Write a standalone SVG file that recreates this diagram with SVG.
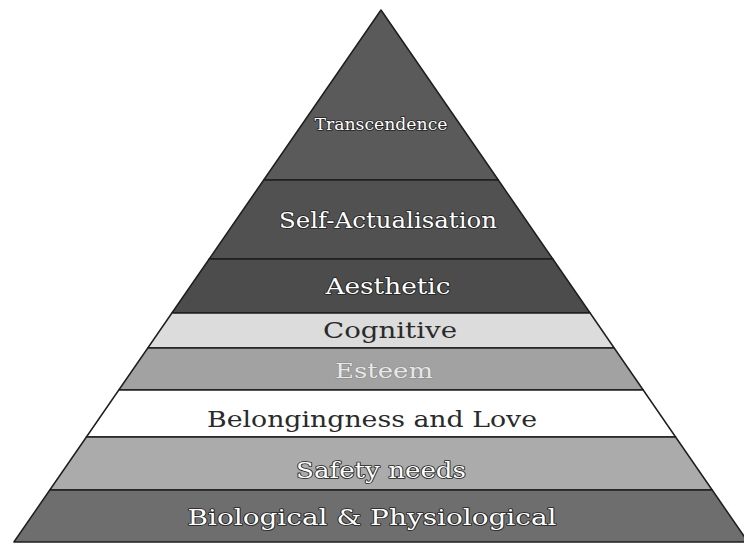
<svg xmlns="http://www.w3.org/2000/svg" width="744" height="544" viewBox="0 0 744 544">
<style>
.band{stroke:#1e1e1e;stroke-width:1.5;stroke-linejoin:round}
.lbl{font-family:"DejaVu Serif","Liberation Serif",serif;text-anchor:middle}
.lite{fill:#ffffff;stroke:#222;stroke-width:1.6;paint-order:stroke;stroke-linejoin:round}
.dark{fill:#2a2a2a}
.faint{fill:#e8e8e8;stroke:#8a8a8a;stroke-width:1;paint-order:stroke}
</style>
<rect width="744" height="544" fill="#ffffff"/>
<g id="transcendence">
<polygon class="band" points="381,10 498.3,180 263.7,180" fill="#5a5a5a"/>
<text class="lbl lite" x="381" y="130" font-size="16" textLength="133" lengthAdjust="spacingAndGlyphs">Transcendence</text>
</g>
<g id="self-actualisation">
<polygon class="band" points="263.7,180 498.3,180 552.8,259 209.2,259" fill="#515151"/>
<text class="lbl lite" x="388" y="228" font-size="22" textLength="218" lengthAdjust="spacingAndGlyphs">Self-Actualisation</text>
</g>
<g id="aesthetic">
<polygon class="band" points="209.2,259 552.8,259 590.1,313 171.9,313" fill="#4c4c4c"/>
<text class="lbl lite" x="388" y="294" font-size="22" textLength="125" lengthAdjust="spacingAndGlyphs">Aesthetic</text>
</g>
<g id="cognitive">
<polygon class="band" points="171.9,313 590.1,313 614.2,348 147.8,348" fill="#dcdcdc"/>
<text class="lbl dark" x="390" y="338" font-size="22" textLength="134" lengthAdjust="spacingAndGlyphs">Cognitive</text>
</g>
<g id="esteem">
<polygon class="band" points="147.8,348 614.2,348 643.2,390 118.8,390" fill="#a2a2a2"/>
<text class="lbl faint" x="384" y="378" font-size="20" textLength="98" lengthAdjust="spacingAndGlyphs">Esteem</text>
</g>
<g id="belongingness">
<polygon class="band" points="118.8,390 643.2,390 675.6,437 86.4,437" fill="#ffffff"/>
<text class="lbl dark" x="372" y="427" font-size="23" textLength="330" lengthAdjust="spacingAndGlyphs">Belongingness and Love</text>
</g>
<g id="safety">
<polygon class="band" points="86.4,437 675.6,437 712.2,490 49.8,490" fill="#ababab"/>
<text class="lbl lite" x="381" y="478" font-size="22" textLength="170" lengthAdjust="spacingAndGlyphs">Safety needs</text>
</g>
<g id="biological">
<polygon class="band" points="49.8,490 712.2,490 748.1,542 13.9,542" fill="#6e6e6e"/>
<text class="lbl lite" x="372" y="525" font-size="22" textLength="369" lengthAdjust="spacingAndGlyphs">Biological &amp; Physiological</text>
</g>
<g id="connectors"></g>
</svg>
